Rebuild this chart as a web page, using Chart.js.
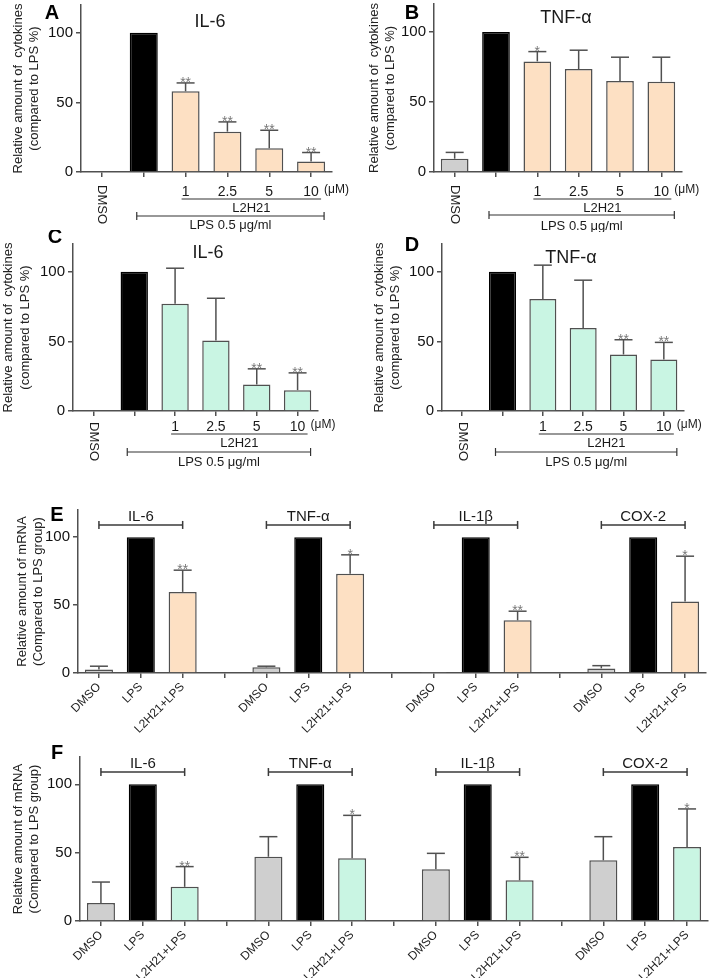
<!DOCTYPE html>
<html>
<head>
<meta charset="utf-8">
<script src="https://cdn.jsdelivr.net/npm/chart.js@4.4.1/dist/chart.umd.min.js"></script>
<style>
  body { margin: 0; background: #fff; width: 709px; height: 978px; position: relative; overflow: hidden; }
  canvas { position: absolute; }
</style>
</head>
<body>
<canvas id="cA" width="354" height="232" style="left:0;top:0"></canvas>
<canvas id="cB" width="355" height="232" style="left:354px;top:0"></canvas>
<canvas id="cC" width="354" height="240" style="left:0;top:230px"></canvas>
<canvas id="cD" width="355" height="240" style="left:354px;top:230px"></canvas>
<canvas id="cE" width="709" height="260" style="left:0;top:480px"></canvas>
<canvas id="cF" width="709" height="238" style="left:0;top:740px"></canvas>
<script>
// A-D: DMSO, LPS, then LPS + L2H21 at 1 / 2.5 / 5 / 10 uM
const doseLabels = ['DMSO', '', '1', '2.5', '5', '10'];
const il6Orange = [0.5, 100, 58, 29, 17, 7.5];
const il6OrangeSd = [0, 0, 6, 7, 13, 6.5];
const il6OrangeSig = ['', '', '**', '**', '**', '**'];
const tnfOrange = [9.5, 100, 79, 73.5, 65, 64.5];
const tnfOrangeSd = [4.5, 0, 7, 13.5, 17, 17.5];
const tnfOrangeSig = ['', '', '*', '', '', ''];
const il6Mint = [0, 100, 77, 50.7, 19, 15];
const il6MintSd = [0, 0, 25.6, 30.3, 11.3, 12.4];
const il6MintSig = ['', '', '', '', '**', '**'];
const tnfMint = [0.4, 100, 80.5, 59.6, 40.6, 37];
const tnfMintSd = [0, 0, 24.3, 34.4, 10.6, 12.3];
const tnfMintSig = ['', '', '', '', '**', '**'];

// E, F: four genes x (DMSO, LPS, L2H21+LPS), one empty slot between genes
const genes = ['IL-6', 'TNF-α', 'IL-1β', 'COX-2'];
const mrnaLabels = ['DMSO', 'LPS', 'L2H21+LPS', '', 'DMSO', 'LPS', 'L2H21+LPS', '',
                    'DMSO', 'LPS', 'L2H21+LPS', '', 'DMSO', 'LPS', 'L2H21+LPS'];
const mrnaE = [2.5, 100, 59.7, null, 4.2, 100, 73, null, 0.3, 100, 38.8, null, 3.4, 100, 52.6];
const mrnaESd = [2.5, 0, 16, null, 0.8, 0, 14, null, 0, 0, 6.7, null, 2, 0, 33.4];
const mrnaESig = ['', '', '**', '', '', '', '*', '', '', '', '**', '', '', '', '*'];
const mrnaF = [13.2, 100, 25, null, 47, 100, 45.9, null, 37.8, 100, 29.8, null, 44.4, 100, 54.1];
const mrnaFSd = [15.3, 0, 14.8, null, 14.7, 0, 31.4, null, 11.7, 0, 16.8, null, 17.3, 0, 27.9];
const mrnaFSig = ['', '', '**', '', '', '', '*', '', '', '', '**', '', '', '', '*'];

const yTicks = [0, 50, 100];

const fam = 'Arial, "Liberation Sans", sans-serif';
const edge = '#505050';
const gray = '#cfcfcf';
const orange = '#fde0c3';
const mint = '#c9f5e3';

function seg(ctx, x1, y1, x2, y2) {
  ctx.beginPath(); ctx.moveTo(x1, y1); ctx.lineTo(x2, y2); ctx.stroke();
}

function txt(ctx, s, x, y, size, opt) {
  opt = opt || {};
  ctx.font = (opt.bold ? 'bold ' : '') + size + 'px ' + fam;
  ctx.fillStyle = opt.color || '#1a1a1a';
  ctx.textAlign = opt.align || 'center';
  ctx.textBaseline = opt.base || 'middle';
  ctx.fillText(s, x, y);
}

function drawDecor(chart, cfg) {
  const ctx = chart.ctx, x = chart.scales.x, y = chart.scales.y;
  const bot = chart.chartArea.bottom;
  const px = i => x.getPixelForValue(i);
  ctx.save();
  ctx.strokeStyle = edge;
  ctx.lineWidth = 1.5;

  // error bars (upper only) and significance marks
  cfg.values.forEach((v, i) => {
    const sd = cfg.sd[i];
    if (v == null || !sd) return;
    const cx = px(i), y0 = y.getPixelForValue(v), y1 = y.getPixelForValue(v + sd);
    seg(ctx, cx, y0, cx, y1);
    seg(ctx, cx - 9, y1, cx + 9, y1);
    if (cfg.sig[i]) txt(ctx, cfg.sig[i], cx, y1 + 4, 14, {base: 'alphabetic', color: '#777'});
  });

  txt(ctx, cfg.letter, cfg.letterPos[0], cfg.letterPos[1], 20, {bold: true, color: '#000'});

  if (cfg.kind === 'dose') {
    const o = cfg.offs;
    txt(ctx, cfg.title, cfg.titlePos[0], cfg.titlePos[1], 18);
    // rotated DMSO label
    ctx.save();
    ctx.translate(px(0), bot + o[5]);
    ctx.rotate(Math.PI / 2);
    txt(ctx, 'DMSO', 0, 0, 13, {align: 'left'});
    ctx.restore();
    for (let i = 2; i < doseLabels.length; i++) txt(ctx, doseLabels[i], px(i), bot + o[0], 14);
    txt(ctx, '(μM)', px(5) + 13, bot + o[0] - 2, 12, {align: 'left'});
    ctx.lineWidth = 1.2;
    ctx.strokeStyle = '#333';
    const l1 = px(2) - 4, l2 = px(5) + 10;
    seg(ctx, l1, bot + o[1], l2, bot + o[1]);
    txt(ctx, 'L2H21', (l1 + l2) / 2, bot + o[2], 13);
    const b1 = px(1) - 7, b2 = px(5) + 13, by = bot + o[3];
    seg(ctx, b1, by, b2, by);
    seg(ctx, b1, by - 4, b1, by + 4);
    seg(ctx, b2, by - 4, b2, by + 4);
    txt(ctx, 'LPS 0.5 μg/ml', (b1 + b2) / 2, bot + o[4], 13);
  } else {
    // gene brackets over each triplet
    const by = y.getPixelForValue(109);
    ctx.strokeStyle = '#3a3a3a';
    ctx.lineWidth = 1.5;
    genes.forEach((g, k) => {
      const a = px(k * 4), b = px(k * 4 + 2);
      seg(ctx, a, by, b, by);
      seg(ctx, a, by - 4, a, by + 4);
      seg(ctx, b, by - 4, b, by + 4);
      txt(ctx, g, (a + b) / 2, by - 4, 15, {base: 'alphabetic'});
    });
  }
  ctx.restore();
}

function makeChart(id, cfg) {
  const canvas = document.getElementById(id);
  const W = canvas.width, H = canvas.height, a = cfg.area;
  const colors = cfg.values.map((v, i) => cfg.labels[i] === 'DMSO' ? gray :
    (i % 4 === 1 && cfg.kind !== 'dose') || (cfg.kind === 'dose' && i === 1) ? '#000000' : cfg.fill);
  const lh = 1.3, tSize = 13;
  const titlePad = Math.max(0, cfg.yTitleX - tSize * lh / 2);
  const axisLine = {display: true, drawOnChartArea: false, offset: false, tickLength: 5, color: edge, lineWidth: 1.5};
  return new Chart(canvas, {
    type: 'bar',
    data: {
      labels: cfg.labels,
      datasets: [{
        data: cfg.values,
        backgroundColor: colors,
        borderColor: colors.map(c => c === '#000000' ? '#000000' : edge),
        borderWidth: 1.5,
        barPercentage: 0.67,
        categoryPercentage: 1
      }]
    },
    options: {
      responsive: false,
      animation: false,
      layout: {padding: {left: 0, top: a.t, right: W - a.r, bottom: 0}},
      plugins: {legend: {display: false}, tooltip: {enabled: false}},
      scales: {
        x: {
          grid: axisLine,
          border: {display: true, color: edge, width: 1.5},
          ticks: cfg.kind === 'dose' ? {display: false} : {
            autoSkip: false, minRotation: 45, maxRotation: 45, padding: 2,
            color: '#222', font: {size: 12, family: fam}
          },
          afterFit(s) { s.height = H - a.b; s.paddingLeft = 0; s.paddingRight = 0; }
        },
        y: {
          min: 0,
          max: 120,
          afterBuildTicks(s) { s.ticks = yTicks.map(v => ({value: v})); },
          grid: axisLine,
          border: {display: true, color: edge, width: 1.5},
          ticks: {color: '#111', padding: 3, font: {size: 15, family: fam}},
          title: {
            display: true, text: cfg.yTitle, color: '#222',
            font: {size: tSize, family: fam, lineHeight: lh},
            padding: {top: titlePad, bottom: 0}
          },
          afterFit(s) { s.width = a.l; s.paddingTop = 0; s.paddingBottom = 0; }
        }
      }
    },
    plugins: [{id: 'decor', afterDraw(chart) { drawDecor(chart, cfg); }}]
  });
}

const cytoTitle = ['Relative amount of  cytokines', '(compared to LPS %)'];
const mrnaTitle = ['Relative amount of mRNA', '(Compared to LPS group)'];

makeChart('cA', {kind: 'dose', labels: doseLabels, values: il6Orange, sd: il6OrangeSd, sig: il6OrangeSig,
  fill: orange, area: {l: 81, r: 332, t: 5, b: 172}, yTitle: cytoTitle, yTitleX: 18,
  title: 'IL-6', titlePos: [210, 22], letter: 'A', letterPos: [52, 13], offs: [20, 27, 36, 44, 53, 13]});
makeChart('cB', {kind: 'dose', labels: doseLabels, values: tnfOrange, sd: tnfOrangeSd, sig: tnfOrangeSig,
  fill: orange, area: {l: 80, r: 328, t: 4, b: 172}, yTitle: cytoTitle, yTitleX: 20,
  title: 'TNF-α', titlePos: [212, 18], letter: 'B', letterPos: [58, 13], offs: [20, 27, 36, 43, 54, 13]});
makeChart('cC', {kind: 'dose', labels: doseLabels, values: il6Mint, sd: il6MintSd, sig: il6MintSig,
  fill: mint, area: {l: 73, r: 318, t: 14, b: 181}, yTitle: cytoTitle, yTitleX: 8,
  title: 'IL-6', titlePos: [208, 23], letter: 'C', letterPos: [55, 7], offs: [16, 23, 32, 41, 51, 11]});
makeChart('cD', {kind: 'dose', labels: doseLabels, values: tnfMint, sd: tnfMintSd, sig: tnfMintSig,
  fill: mint, area: {l: 88, r: 330, t: 14, b: 181}, yTitle: cytoTitle, yTitleX: 25,
  title: 'TNF-α', titlePos: [217, 28], letter: 'D', letterPos: [58, 15], offs: [16, 23, 32, 41, 51, 11]});
makeChart('cE', {kind: 'mrna', labels: mrnaLabels, values: mrnaE, sd: mrnaESd, sig: mrnaESig,
  fill: orange, area: {l: 78, r: 706, t: 30, b: 193}, yTitle: mrnaTitle, yTitleX: 22,
  letter: 'E', letterPos: [57, 35]});
makeChart('cF', {kind: 'mrna', labels: mrnaLabels, values: mrnaF, sd: mrnaFSd, sig: mrnaFSig,
  fill: mint, area: {l: 80, r: 708, t: 17, b: 181}, yTitle: mrnaTitle, yTitleX: 18,
  letter: 'F', letterPos: [57, 13]});
</script>
</body>
</html>
